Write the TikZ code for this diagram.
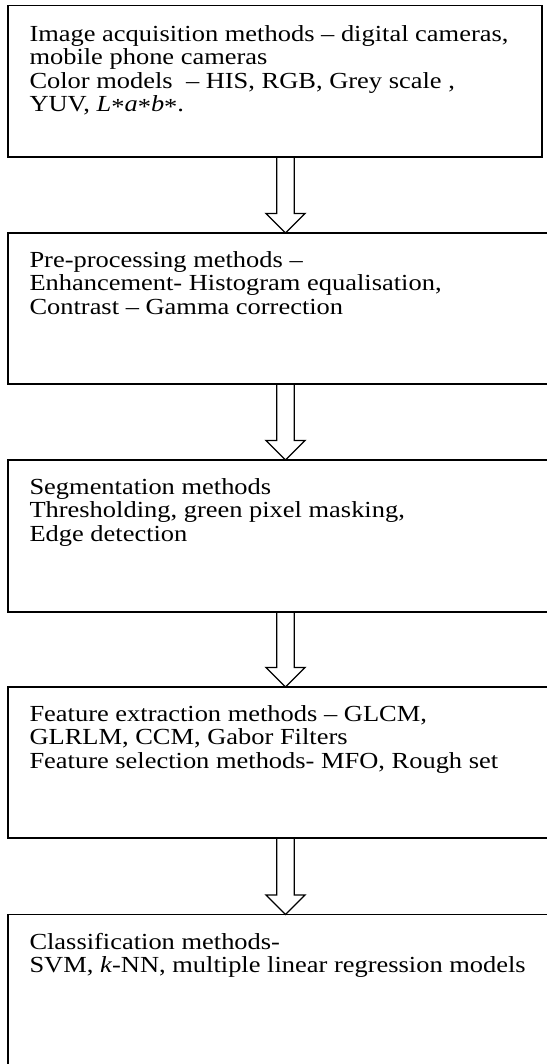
\documentclass[tikz,border=0pt]{standalone}
\usepackage{fontspec}
\setmainfont{Liberation Serif}[FakeStretch=1.15]
\usetikzlibrary{calc,positioning}

% Asterisco centrado
\newcommand{\asterisco}{\raisebox{-0.28ex}{*}}

% Flecha hueca entre dos cajas
\newcommand{\flecha}[2]{%
    \draw[flecha] let \p1 = (#1.south -| eje), \p2 = (#2.north -| eje) in
        (\x1-\sw pt,\y1) -- (\x1-\sw pt,\y2+\hl pt) -- (\x1-\hw pt,\y2+\hl pt)
        -- (\x2,\y2)
        -- (\x1+\hw pt,\y2+\hl pt) -- (\x1+\sw pt,\y2+\hl pt) -- (\x1+\sw pt,\y1);
}

\begin{document}
\begin{tikzpicture}[x=1pt, y=-1pt,
        caja/.style={draw, line width=1.3pt, rectangle, inner sep=0pt, outer sep=0pt,
            anchor=north west},
        texto/.style={anchor=north west, inner sep=0pt, align=left,
            font=\fontsize{23}{23.5}\selectfont, execute at begin node=\strut},
        flecha/.style={line width=1.3pt, line join=miter}]

    % Marco
    \useasboundingbox (0,0) rectangle (546,1064);

    % Parámetros de las flechas
    \def\sw{8.75} % semiancho del cuerpo
    \def\hw{19.5} % semiancho de la punta
    \def\hl{19.5} % largo de la punta
    \coordinate (eje) at (285.5,0);

    % Cajas
    \node[caja, minimum width=534pt, minimum height=151.5pt] (adq) at (8,5.5) {};
    \node[caja, minimum width=560pt, minimum height=151pt] (pre) at (8,233) {};
    \node[caja, minimum width=560pt, minimum height=152pt] (seg) at (8,460) {};
    \node[caja, minimum width=560pt, minimum height=151pt] (car) at (8,687) {};
    \node[caja, minimum width=560pt, minimum height=170pt] (cla) at (8,914.5) {};

    % Textos
    \node[texto] (adqtxt) at ($(adq.north west)+(21.3,19.5)$)
        {Image acquisition methods -- digital cameras,\\
         mobile phone cameras\\
         Color models\ \ -- HIS, RGB, Grey scale ,\\
         YUV, \textit{L}\asterisco\textit{a}\asterisco\textit{b}\asterisco.};
    \node[texto] (pretxt) at ($(pre.north west)+(21.3,18.3)$)
        {Pre-processing methods --\\
         Enhancement- Histogram equalisation,\\
         Contrast -- Gamma correction};
    \node[texto] (segtxt) at ($(seg.north west)+(21.3,18.3)$)
        {Segmentation methods\\
         Thresholding, green pixel masking,\\
         Edge detection};
    \node[texto] (cartxt) at ($(car.north west)+(21.3,18.3)$)
        {Feature extraction methods -- GLCM,\\
         GLRLM, CCM, Gabor Filters\\
         Feature selection methods- MFO, Rough set};
    \node[texto] (clatxt) at ($(cla.north west)+(21.3,18.3)$)
        {Classification methods-\\
         SVM, \textit{k}-NN, multiple linear regression models};

    % Flechas
    \flecha{adq}{pre}
    \flecha{pre}{seg}
    \flecha{seg}{car}
    \flecha{car}{cla}

\end{tikzpicture}
\end{document}
